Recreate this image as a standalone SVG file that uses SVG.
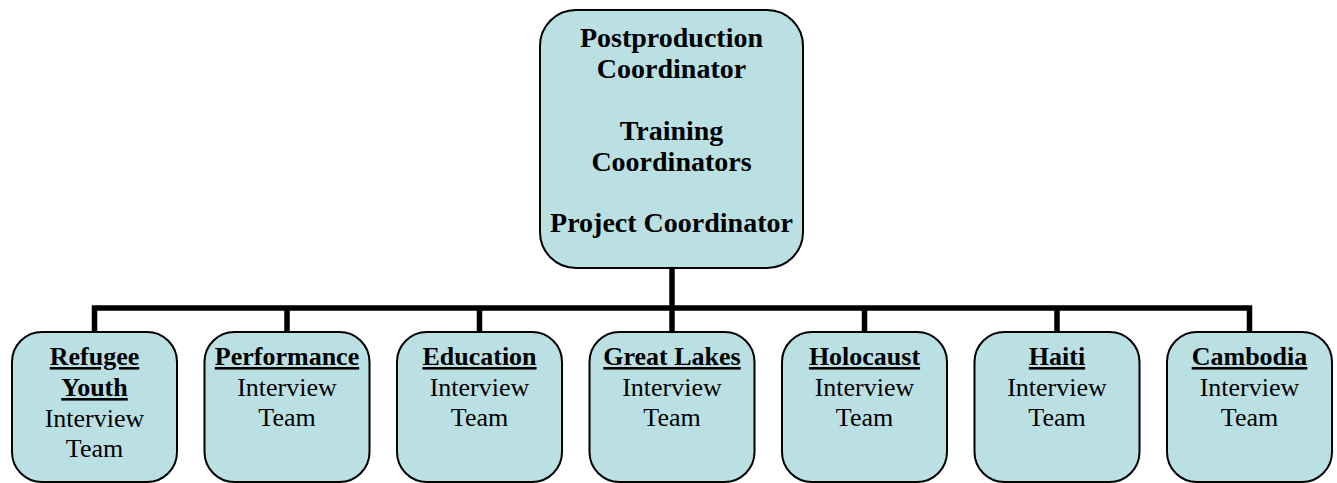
<svg xmlns="http://www.w3.org/2000/svg" width="1337" height="483" viewBox="0 0 1337 483">
  <style>
    .box { fill: #BBE0E3; stroke: #000; stroke-width: 2; }
    .wire { fill: none; stroke: #000; stroke-width: 5.5; stroke-linecap: butt; }
    text { font-family: "Liberation Serif", "Times New Roman", serif; fill: #000; text-anchor: middle; }
    .head { font-size: 28px; font-weight: bold; }
    .title { font-size: 26px; font-weight: bold; text-decoration: underline; text-decoration-thickness: 2.5px; text-underline-offset: 4px; }
    .sub { font-size: 26px; }
  </style>
  <rect width="1337" height="483" fill="#fff"/>

  <!-- connectors -->
  <g id="connectors">
    <path class="wire" d="M672 268 V308"/>
    <path class="wire" d="M94.5 333 V308 H1249.5 V333"/>
    <path class="wire" d="M287 308 V333"/>
    <path class="wire" d="M479.5 308 V333"/>
    <path class="wire" d="M672 308 V333"/>
    <path class="wire" d="M864.5 308 V333"/>
    <path class="wire" d="M1057 308 V333"/>
  </g>

  <!-- coordinators -->
  <g id="coordination">
    <rect class="box" x="540" y="10" width="263" height="258" rx="36" ry="36"/>
    <text class="head" x="671.5" y="47">Postproduction</text>
    <text class="head" x="671.5" y="78">Coordinator</text>
    <text class="head" x="671.5" y="140">Training</text>
    <text class="head" x="671.5" y="171">Coordinators</text>
    <text class="head" x="671.5" y="232">Project Coordinator</text>
  </g>

  <!-- interview teams -->
  <g id="team-refugee-youth">
    <rect class="box" x="12" y="332" width="165" height="150" rx="30" ry="30"/>
    <text class="title" x="94.5" y="365">Refugee</text>
    <text class="title" x="94.5" y="396">Youth</text>
    <text class="sub" x="94.5" y="427">Interview</text>
    <text class="sub" x="94.5" y="457">Team</text>
  </g>
  <g id="team-performance">
    <rect class="box" x="204.5" y="332" width="165" height="150" rx="30" ry="30"/>
    <text class="title" x="287" y="365">Performance</text>
    <text class="sub" x="287" y="396">Interview</text>
    <text class="sub" x="287" y="426">Team</text>
  </g>
  <g id="team-education">
    <rect class="box" x="397" y="332" width="165" height="150" rx="30" ry="30"/>
    <text class="title" x="479.5" y="365">Education</text>
    <text class="sub" x="479.5" y="396">Interview</text>
    <text class="sub" x="479.5" y="426">Team</text>
  </g>
  <g id="team-great-lakes">
    <rect class="box" x="589.5" y="332" width="165" height="150" rx="30" ry="30"/>
    <text class="title" x="672" y="365">Great Lakes</text>
    <text class="sub" x="672" y="396">Interview</text>
    <text class="sub" x="672" y="426">Team</text>
  </g>
  <g id="team-holocaust">
    <rect class="box" x="782" y="332" width="165" height="150" rx="30" ry="30"/>
    <text class="title" x="864.5" y="365">Holocaust</text>
    <text class="sub" x="864.5" y="396">Interview</text>
    <text class="sub" x="864.5" y="426">Team</text>
  </g>
  <g id="team-haiti">
    <rect class="box" x="974.5" y="332" width="165" height="150" rx="30" ry="30"/>
    <text class="title" x="1057" y="365">Haiti</text>
    <text class="sub" x="1057" y="396">Interview</text>
    <text class="sub" x="1057" y="426">Team</text>
  </g>
  <g id="team-cambodia">
    <rect class="box" x="1167" y="332" width="165" height="150" rx="30" ry="30"/>
    <text class="title" x="1249.5" y="365">Cambodia</text>
    <text class="sub" x="1249.5" y="396">Interview</text>
    <text class="sub" x="1249.5" y="426">Team</text>
  </g>
</svg>
